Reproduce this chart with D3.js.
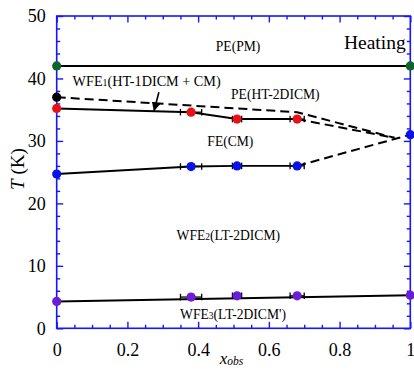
<!DOCTYPE html>
<html>
<head>
<meta charset="utf-8">
<script src="https://cdn.jsdelivr.net/npm/d3@7"></script>
<style>
  body { margin: 0; background: #fff; }
  svg { display: block; }
  svg text, svg tspan { font-family: "Liberation Serif", "Times New Roman", Times, serif; }
</style>
</head>
<body>
<svg id="chart" width="414" height="372"></svg>
<script>
// Observed compositions and their horizontal uncertainties
const xObs = [0, 0.38, 0.51, 0.68, 1];
const xErr = [0, 0.03, 0.013, 0.02, 0];

// Transition temperatures on heating (K)
const pmX = [0, 1];
const tPM = [42, 42];                        // PE(PM) boundary
const wfe1X = [0];
const tWFE1 = [37];                          // WFE1 onset for the pure compound
const htX = [0, 0.38, 0.51, 0.68];
const tHT = [35.2, 34.6, 33.5, 33.5];        // PE(HT-2DICM) -> FE(CM)
const feX = [0, 0.38, 0.51, 0.68, 1];
const tFE = [24.7, 25.9, 26.0, 26.0, 31.0];  // FE(CM) -> WFE2
const ltX = [0, 0.38, 0.51, 0.68, 1];
const tLT = [4.3, 5.0, 5.2, 5.2, 5.3];       // WFE2 -> WFE3

// Straight fit through the low-temperature transition
const ltFitX = [0, 1];
const ltFitT = [4.3, 5.3];

// Tentative (dashed) phase boundaries
const wfe1DashX = [0, 0.68, 0.955];
const wfe1DashT = [37, 34.6, 30.5];
const htDashX = [0.68, 0.955];
const htDashT = [33.5, 30.5];
const feDashX = [0.68, 1];
const feDashT = [26.0, 31.0];

// Axis ticks
const xTicks = [0, 0.2, 0.4, 0.6, 0.8, 1];
const xTickLabels = ["0", "0.2", "0.4", "0.6", "0.8", "1"];
const yTicks = [0, 10, 20, 30, 40, 50];
const xMinor = [0.05, 0.1, 0.15, 0.25, 0.3, 0.35, 0.45, 0.5, 0.55, 0.65, 0.7, 0.75, 0.85, 0.9, 0.95];
const yMinor = [2, 4, 6, 8, 12, 14, 16, 18, 22, 24, 26, 28, 32, 34, 36, 38, 42, 44, 46, 48];

const colors = {
  axis: "#1515ff",
  pm: "#0f6428",
  wfe1: "#000000",
  ht: "#ea1018",
  fe: "#0a10e8",
  lt: "#6a1ed6"
};

const serif = '"Liberation Serif", "Times New Roman", Times, serif';

const svg = d3.select("#chart").attr("font-family", serif);
const x = d3.scaleLinear().domain([0, 1]).range([56.7, 410.3]);
const y = d3.scaleLinear().domain([0, 50]).range([328.3, 16]);

const major = 6.5, minor = 3.5;

// ---- axes (ticks point inward on all four sides) ----
function styleAxis(g) {
  g.attr("font-family", serif);
  g.select(".domain").remove();
  g.selectAll(".tick line").attr("stroke", colors.axis).attr("stroke-width", 1.4);
  g.selectAll(".tick text").attr("font-size", 18).attr("fill", "#000")
    .attr("font-family", serif);
}

svg.append("g").attr("transform", `translate(0,${y(0)})`)
  .call(d3.axisBottom(x).tickValues(xTicks).tickSize(-major).tickPadding(15)
    .tickFormat((d, i) => xTickLabels[i]))
  .call(styleAxis);
svg.append("g").attr("transform", `translate(0,${y(0)})`)
  .call(d3.axisBottom(x).tickValues(xMinor).tickSize(-minor).tickFormat(""))
  .call(styleAxis);
svg.append("g").attr("transform", `translate(0,${y(50)})`)
  .call(d3.axisTop(x).tickValues(xTicks).tickSize(-major).tickFormat(""))
  .call(styleAxis);
svg.append("g").attr("transform", `translate(0,${y(50)})`)
  .call(d3.axisTop(x).tickValues(xMinor).tickSize(-minor).tickFormat(""))
  .call(styleAxis);

svg.append("g").attr("transform", `translate(${x(0)},0)`)
  .call(d3.axisLeft(y).tickValues(yTicks).tickSize(-major).tickPadding(11)
    .tickFormat(d3.format("d")))
  .call(styleAxis);
svg.append("g").attr("transform", `translate(${x(0)},0)`)
  .call(d3.axisLeft(y).tickValues(yMinor).tickSize(-minor).tickFormat(""))
  .call(styleAxis);
svg.append("g").attr("transform", `translate(${x(1)},0)`)
  .call(d3.axisRight(y).tickValues(yTicks).tickSize(-major).tickFormat(""))
  .call(styleAxis);
svg.append("g").attr("transform", `translate(${x(1)},0)`)
  .call(d3.axisRight(y).tickValues(yMinor).tickSize(-minor).tickFormat(""))
  .call(styleAxis);

// frame
svg.append("rect")
  .attr("x", x(0)).attr("y", y(50))
  .attr("width", x(1) - x(0)).attr("height", y(0) - y(50))
  .attr("fill", "none").attr("stroke", colors.axis).attr("stroke-width", 1.6);

// ---- boundary lines ----
const line = d3.line().x(d => x(d[0])).y(d => y(d[1]));
const pairs = (xs, ts) => xs.map((v, i) => [v, ts[i]]);

const plot = svg.append("g");

function drawLine(xs, ts, dashed) {
  plot.append("path")
    .attr("d", line(pairs(xs, ts)))
    .attr("fill", "none")
    .attr("stroke", "#000")
    .attr("stroke-width", dashed ? 2 : 1.9)
    .attr("stroke-dasharray", dashed ? "9,5" : null);
}

drawLine(pmX, tPM, false);
drawLine(htX, tHT, false);
drawLine(feX.slice(0, 4), tFE.slice(0, 4), false);
drawLine(ltFitX, ltFitT, false);
drawLine(wfe1DashX, wfe1DashT, true);
drawLine(htDashX, htDashT, true);
drawLine(feDashX, feDashT, true);

// ---- horizontal error bars ----
function drawErrors(xs, ts) {
  xs.forEach((xv, i) => {
    const e = xErr[xObs.indexOf(xv)];
    if (!e) return;
    const yy = y(ts[i]);
    const x0 = x(xv - e), x1 = x(xv + e);
    const g = plot.append("g").attr("stroke", "#000").attr("stroke-width", 1.3);
    g.append("line").attr("x1", x0).attr("x2", x1).attr("y1", yy).attr("y2", yy);
    g.append("line").attr("x1", x0).attr("x2", x0).attr("y1", yy - 3.3).attr("y2", yy + 3.3);
    g.append("line").attr("x1", x1).attr("x2", x1).attr("y1", yy - 3.3).attr("y2", yy + 3.3);
  });
}
drawErrors(htX, tHT);
drawErrors(feX, tFE);
drawErrors(ltX, tLT);

// ---- markers ----
function drawPoints(xs, ts, color) {
  plot.append("g").selectAll("circle")
    .data(pairs(xs, ts))
    .join("circle")
    .attr("cx", d => x(d[0]))
    .attr("cy", d => y(d[1]))
    .attr("r", 4.6)
    .attr("fill", color);
}
drawPoints(pmX, tPM, colors.pm);
drawPoints(wfe1X, tWFE1, colors.wfe1);
drawPoints(htX, tHT, colors.ht);
drawPoints(feX, tFE, colors.fe);
drawPoints(ltX, tLT, colors.lt);

// ---- phase labels ----
function phaseLabel(xv, tv, parts, size = 13.6) {
  const t = svg.append("text")
    .attr("x", x(xv)).attr("y", y(tv))
    .attr("font-family", serif)
    .attr("font-size", size);
  parts.forEach(p => {
    const s = t.append("tspan").text(p.text);
    if (p.sub) s.attr("font-size", size * 0.7);
  });
  return t;
}

phaseLabel(0.45, 44.45, [{ text: "PE(PM)" }]);
phaseLabel(0.045, 38.8, [{ text: "WFE" }, { text: "1", sub: true }, { text: "(HT-1DICM + CM)" }], 14.2);
phaseLabel(0.493, 36.67, [{ text: "PE(HT-2DICM)" }]);
phaseLabel(0.426, 29.19, [{ text: "FE(CM)" }]);
phaseLabel(0.339, 14.14, [{ text: "WFE" }, { text: "2", sub: true }, { text: "(LT-2DICM)" }]);
phaseLabel(0.349, 1.44, [{ text: "WFE" }, { text: "3", sub: true }, { text: "(LT-2DICM')" }]);

svg.append("text")
  .attr("x", x(0.987)).attr("y", y(44.7))
  .attr("text-anchor", "end")
  .attr("font-family", serif)
  .attr("font-size", 19.5)
  .text("Heating");

// arrow pointing at the WFE1 boundary
const arrowFrom = [0.289, 37.8], arrowTo = [0.275, 34.75];
svg.append("defs").append("marker")
  .attr("id", "head")
  .attr("viewBox", "0 0 10 10")
  .attr("refX", 10).attr("refY", 5)
  .attr("markerWidth", 9).attr("markerHeight", 9)
  .attr("markerUnits", "userSpaceOnUse")
  .attr("orient", "auto")
  .append("path").attr("d", "M0,0 L10,5 L0,10 Z").attr("fill", "#000");
svg.append("line")
  .attr("x1", x(arrowFrom[0])).attr("y1", y(arrowFrom[1]))
  .attr("x2", x(arrowTo[0])).attr("y2", y(arrowTo[1]))
  .attr("stroke", "#000").attr("stroke-width", 1.6)
  .attr("marker-end", "url(#head)");

// ---- axis titles ----
const yTitle = svg.append("text")
  .attr("transform", `translate(24,${y(25.5)}) rotate(-90)`)
  .attr("text-anchor", "middle")
  .attr("font-family", serif)
  .attr("font-size", 19);
yTitle.append("tspan").attr("font-style", "italic").text("T");
yTitle.append("tspan").text(" (K)");

const xTitle = svg.append("text")
  .attr("x", (x(0) + x(1)) / 2 - 2).attr("y", 364)
  .attr("text-anchor", "middle")
  .attr("font-family", serif)
  .attr("font-style", "italic");
xTitle.append("tspan").attr("font-size", 17).text("x");
xTitle.append("tspan").attr("font-size", 11.5).attr("dy", 1).text("obs");
</script>
</body>
</html>
